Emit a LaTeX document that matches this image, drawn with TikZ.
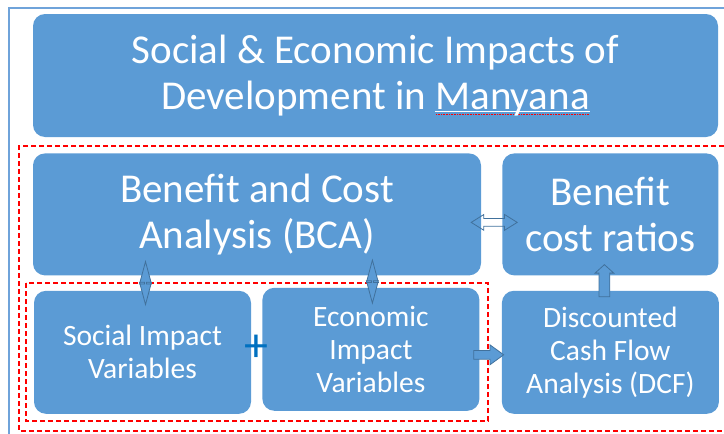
\documentclass[tikz,border=0pt]{standalone}
\usepackage{fontspec}
\setmainfont{Carlito}
\usetikzlibrary{positioning, shapes.arrows, calc}

\definecolor{boxblue}{HTML}{5B9BD5}
\definecolor{edgeblue}{HTML}{41719C}
\definecolor{frameblue}{HTML}{6FA3DA}
\definecolor{plusblue}{HTML}{0070C0}

% word with the white underline and the red spell-check mark under it
\newlength\spellwd
\newcommand{\misspelt}[1]{\settowidth{\spellwd}{#1}%
  \rlap{\rule[-3pt]{\spellwd}{1.5pt}}%
  \rlap{\textcolor{red}{\hbox to\spellwd{\leaders\hbox to 1.6pt{\hss\rule[-5.5pt]{0.8pt}{0.6pt}}\hfill}}}#1}

\begin{document}
\begin{tikzpicture}[
    x=1pt, y=-1pt,
    box/.style={fill=boxblue, rounded corners=12pt, text=white, align=center, inner sep=0pt},
    bigtext/.style={font=\fontsize{41}{46}\selectfont},
    smalltext/.style={font=\fontsize{29.5}{33}\selectfont},
    smallbox/.style={box, smalltext, minimum width=217pt, minimum height=123pt},
    redframe/.style={draw=red, line width=1.2pt, dash pattern=on 5pt off 3pt},
    blockarrow/.style={fill=boxblue, draw=edgeblue, line width=0.8pt, inner xsep=0pt}
]
\useasboundingbox (0,0) rectangle (724,434);

% outer frame
\draw[frameblue, line width=2.5pt] (724,8) -| (9,434);

\node[box, bigtext, minimum width=685pt, minimum height=123pt] (title) at (375.5,75.5)
    {Social \& Economic Impacts of\\Development in \misspelt{Manyana}};

\node[box, bigtext, minimum width=448pt, minimum height=122pt,
      below right=16pt and 0pt of title.south west] (bca) {Benefit and Cost\\Analysis (BCA)};
\node[box, bigtext, minimum width=216pt, minimum height=122pt,
      right=21pt of bca] (ratios) {Benefit\\cost ratios};

\node[smallbox, below right=15pt and 1pt of bca.south west] (social) {Social Impact\\Variables};
\node[smallbox, right=11pt of social, yshift=3pt] (economic) {Economic\\Impact\\Variables};
\node[smallbox, below=15pt of ratios] (dcf) {Discounted\\Cash Flow\\Analysis (DCF)};

% dashed groupings
\draw[redframe] (724,146) -| (19,431) -- (724,431);
\draw[redframe] (26,283) rectangle (488,421);

\node[text=plusblue, font=\fontsize{48}{48}\selectfont, inner sep=0pt]
    (plus) at ($(social.east)!0.5!(economic.west)+(0,-2)$) {+};

% links between the boxes (shaft width = 2 x inner ysep)
\node[blockarrow, double arrow, rotate=90, minimum height=43pt, inner ysep=0.6pt,
      double arrow head extend=5pt, double arrow tip angle=30]
    (socialbca) at ($(bca.south -| social.north)!0.5!(social.north)+(3,0)$) {};
\node[blockarrow, double arrow, rotate=90, minimum height=43pt, inner ysep=0.6pt,
      double arrow head extend=5pt, double arrow tip angle=30]
    (economicbca) at ($(bca.south -| economic.north)!0.5!(economic.north)+(1.5,0)$) {};
\node[blockarrow, double arrow, fill=none, minimum height=46pt, inner ysep=3.5pt,
      double arrow head extend=4pt, double arrow tip angle=64]
    (bcaratios) at ($(bca.east)!0.5!(ratios.west)+(2.5,8)$) {};
\node[blockarrow, single arrow, minimum height=30pt, inner ysep=4pt,
      single arrow head extend=5.5pt, single arrow tip angle=72]
    (economicdcf) at ($(economic.east)!0.5!(dcf.west)+(-5,4)$) {};
\node[blockarrow, single arrow, rotate=90, minimum height=32pt, inner ysep=5pt,
      single arrow head extend=4pt, single arrow tip angle=96]
    (dcfratios) at ($(ratios.south)!0.5!(dcf.north)+(-6,0)$) {};

\end{tikzpicture}
\end{document}
